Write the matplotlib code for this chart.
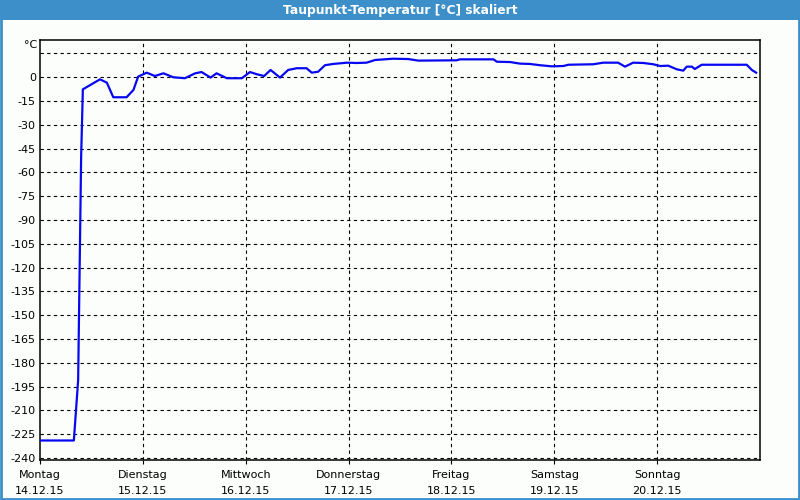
import matplotlib
matplotlib.use("Agg")
import matplotlib.pyplot as plt
from matplotlib.patches import Rectangle

# hours since Monday 14.12.15 00:00
HOURS = [0.0, 7.9, 8.4, 8.9, 9.6, 10.0, 14.0, 15.6, 17.1, 20.2, 21.8, 22.9, 24.9,
         26.8, 28.8, 31.1, 33.8, 36.2, 37.7, 39.8, 41.2, 43.6, 47.1, 49.0, 50.6,
         52.3, 53.8, 56.0, 57.9, 59.9, 62.2, 63.4, 64.9, 66.5, 68.4, 71.6, 73.9,
         76.2, 78.2, 82.4, 85.9, 88.3, 97.2, 98.0, 105.8, 106.6, 109.7, 112.0,
         114.3, 116.7, 119.4, 122.1, 123.3, 129.1, 131.4, 134.9, 136.5, 138.4,
         140.8, 143.1, 144.7, 146.6, 148.6, 150.1, 150.9, 152.1, 152.8, 154.4,
         164.9, 166.1, 167.1]
DEWPOINT = [-229, -229, -210, -191, -50, -7.6, -1.3, -3.4, -12.6, -12.6, -8, 0.4, 2.9,
            0.8, 2.5, 0.0, -0.6, 2.5, 3.3, -0.2, 2.5, -0.6, -0.6, 3.3, 1.9,
            0.8, 4.6, -0.2, 4.6, 5.7, 5.7, 2.9, 3.5, 7.6, 8.4, 9.2, 9.0,
            9.2, 10.9, 11.7, 11.5, 10.5, 10.7, 11.3, 11.3, 9.8, 9.6, 8.6,
            8.4, 7.6, 6.9, 7.1, 7.9, 8.2, 9.2, 9.2, 6.7, 9.2,
            9.0, 8.2, 7.1, 7.3, 5.0, 4.2, 6.7, 6.7, 5.2, 7.9,
            7.9, 4.6, 2.9]

DAY_NAMES = ["Montag", "Dienstag", "Mittwoch", "Donnerstag", "Freitag", "Samstag", "Sonntag"]
DAY_DATES = ["14.12.15", "15.12.15", "16.12.15", "17.12.15", "18.12.15", "19.12.15", "20.12.15"]
Y_TICKS = list(range(0, -241, -15))
TITLE = "Taupunkt-Temperatur [°C] skaliert"

BAR_BLUE = "#3c8fc8"

fig = plt.figure(figsize=(8, 5), dpi=100)
fig.patch.set_facecolor("#fcfefc")

# title bar and frame
fig.patches.append(Rectangle((0, 0.96), 1, 0.04, transform=fig.transFigure,
                             facecolor=BAR_BLUE, edgecolor="none", zorder=0))
fig.patches.append(Rectangle((0.001, 0.002), 0.998, 0.996, transform=fig.transFigure,
                             facecolor="none", edgecolor=BAR_BLUE, linewidth=2, zorder=0))
fig.text(0.5, 0.979, TITLE, ha="center", va="center", color="white",
         fontsize=8.8, fontweight="bold")

ax = fig.add_axes([0.05, 0.08, 0.90, 0.84])
ax.set_facecolor("#fcfefc")
days = [h / 24.0 for h in HOURS]
ax.plot(days, DEWPOINT, color="#0808f0", linewidth=1.6, zorder=3)

ax.set_xlim(0, 7)
ax.set_ylim(-241.3, 23.5)

# grid
for v in Y_TICKS + [15]:
    ax.axhline(v, color="black", linestyle=(0, (3, 3)), linewidth=0.8, zorder=1)
for d in range(1, 7):
    ax.axvline(d, color="black", linestyle=(0, (3, 3)), linewidth=0.8, zorder=1)

ax.set_yticks(Y_TICKS)
ax.set_yticklabels([str(v) for v in Y_TICKS], fontsize=8)
ax.tick_params(axis="y", length=0, pad=3)
ax.set_xticks(range(7))
ax.set_xticklabels([f"{n}\n{d}" for n, d in zip(DAY_NAMES, DAY_DATES)],
                   fontsize=8, linespacing=1.8)
ax.tick_params(axis="x", length=3, direction="out", pad=4)
for s in ax.spines.values():
    s.set_linewidth(1.1)
    s.set_color("black")

ax.text(-0.004, 1.0 - 5 / 420, "°C", transform=ax.transAxes, ha="right", va="center",
        fontsize=8)

fig.savefig("out.png", dpi=100, facecolor=fig.get_facecolor())
